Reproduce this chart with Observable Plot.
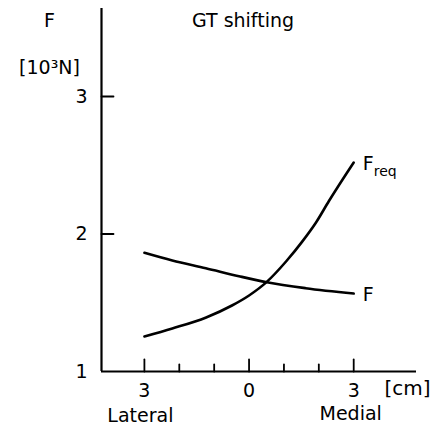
<!DOCTYPE html>
<html>
<head>
<meta charset="utf-8">
<script src="https://cdn.jsdelivr.net/npm/d3@7"></script>
<script src="https://cdn.jsdelivr.net/npm/@observablehq/plot@0.6"></script>
<style>
  html, body { margin: 0; padding: 0; background: #fff; }
  svg { display: block; }
</style>
</head>
<body>
<div id="chart"></div>
<script>
// Shift of greater trochanter (cm): negative = lateral, positive = medial
const freqX = [-3, -2.2, -1.23, -0.49, 0, 0.5, 1.06, 1.54, 1.91, 2.29, 3];
const freqY = [1.255, 1.313, 1.393, 1.48, 1.553, 1.65, 1.80, 1.95, 2.08, 2.24, 2.52];
const fX = [-3, -2.2, -1.24, -0.29, 0.51, 1.62, 3];
const fY = [1.863, 1.807, 1.751, 1.693, 1.649, 1.606, 1.567];

const majorTicksX = [-3, 0, 3];
const minorTicksX = [-2, -1, 1, 2];
const xTickLabels = ["3", "0", "3"];
const yTicks = [2, 3];
const yTickLabelValues = [1, 2, 3];
const yTickLabels = ["1", "2", "3"];

const xDomain = [-4.23, 4.8];
const yDomain = [1, 3.64];

const freqData = freqX.map((x, i) => ({x, y: freqY[i]}));
const fData = fX.map((x, i) => ({x, y: fY[i]}));

const font = "DejaVu Sans";
const line = {draw(ctx, l) { ctx.moveTo(0, 0); ctx.lineTo(0, -l); }};
const txt = {fill: "black", fontSize: 19, lineAnchor: "middle"};

const chart = Plot.plot({
  width: 435,
  height: 426,
  marginLeft: 101,
  marginRight: 19,
  marginTop: 8,
  marginBottom: 55,
  x: {domain: xDomain, axis: null},
  y: {domain: yDomain, axis: null},
  style: {fontFamily: font, fontSize: "19px", background: "white", color: "black"},
  marks: [
    Plot.ruleY([yDomain[0]], {stroke: "black", strokeWidth: 2.2}),
    Plot.ruleX([xDomain[0]], {stroke: "black", strokeWidth: 2.2}),
    Plot.vector(majorTicksX, {x: d => d, y: yDomain[0], length: 12, rotate: 0, anchor: "start", shape: line, stroke: "black", strokeWidth: 1.8}),
    Plot.vector(minorTicksX, {x: d => d, y: yDomain[0], length: 7, rotate: 0, anchor: "start", shape: line, stroke: "black", strokeWidth: 1.8}),
    Plot.vector(yTicks, {x: xDomain[0], y: d => d, length: 12, rotate: 90, anchor: "start", shape: line, stroke: "black", strokeWidth: 1.8}),
    Plot.text(majorTicksX, {...txt, x: d => d, y: yDomain[0], text: (d, i) => xTickLabels[i], dy: 19}),
    Plot.text(yTickLabelValues, {...txt, x: xDomain[0], y: d => d, text: (d, i) => yTickLabels[i], dx: -14, textAnchor: "end"}),
    Plot.text(["Lateral"], {...txt, x: -3, y: yDomain[0], dx: -4, dy: 44, letterSpacing: 0.4}),
    Plot.text(["Medial"], {...txt, x: 3, y: yDomain[0], dx: -3, dy: 42, letterSpacing: 0.4}),
    Plot.text(["[cm]"], {...txt, frameAnchor: "bottom-right", textAnchor: "middle", dx: -9, dy: 17, fontSize: 20}),
    Plot.text(["F"], {...txt, frameAnchor: "top-left", textAnchor: "middle", dx: -52, dy: 12}),
    Plot.text(["[10³N]"], {...txt, frameAnchor: "top-left", textAnchor: "middle", dx: -52, dy: 59}),
    Plot.text(["GT shifting"], {...txt, frameAnchor: "top", textAnchor: "middle", dx: -16, dy: 12, letterSpacing: 1.1}),
    Plot.line(freqData, {x: "x", y: "y", curve: "monotone-x", stroke: "black", strokeWidth: 2.6}),
    Plot.line(fData, {x: "x", y: "y", curve: "monotone-x", stroke: "black", strokeWidth: 2.6}),
    Plot.text([freqData[freqData.length - 1]], {...txt, x: "x", y: "y", text: () => "F", dx: 9, dy: 1, textAnchor: "start"}),
    Plot.text([freqData[freqData.length - 1]], {...txt, x: "x", y: "y", text: () => "req", dx: 20, dy: 9, textAnchor: "start", fontSize: 14}),
    Plot.text([fData[fData.length - 1]], {...txt, x: "x", y: "y", text: () => "F", dx: 9, dy: 1, textAnchor: "start"})
  ]
});
document.getElementById("chart").appendChild(chart);
</script>
</body>
</html>
